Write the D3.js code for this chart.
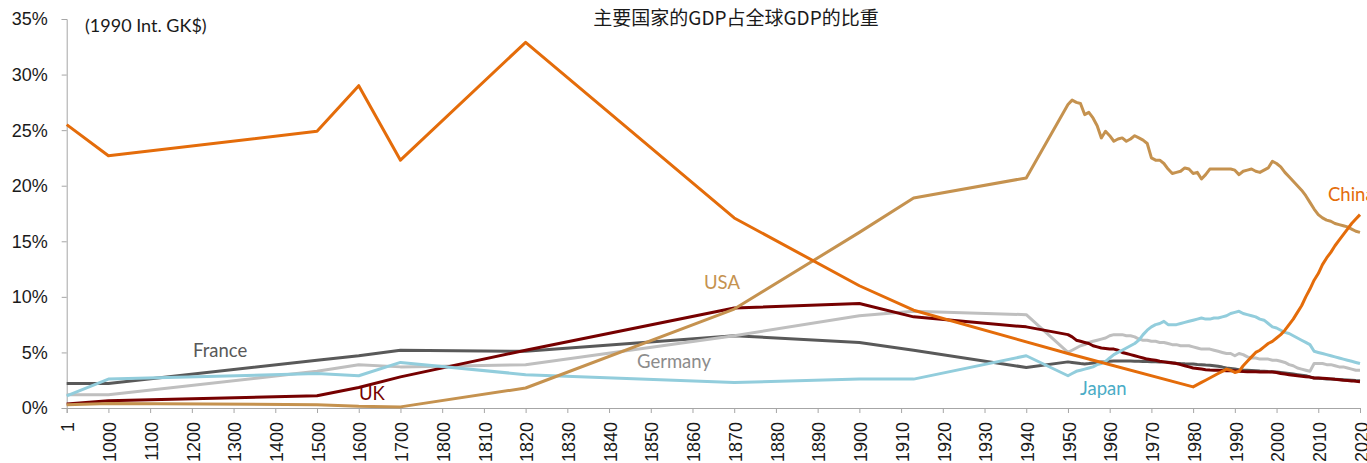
<!DOCTYPE html>
<html>
<head>
<meta charset="utf-8">
<script src="https://cdn.jsdelivr.net/npm/d3@7"></script>
<style>
  body { margin: 0; background: #fff; }
  svg { display: block; font-family: Lato, "Noto Sans", sans-serif; }
</style>
</head>
<body>
<div id="chart"></div>
<script>
// x axis categories (evenly spaced on the axis)
const tickYears = [1, 1000, 1100, 1200, 1300, 1400, 1500, 1600, 1700, 1800,
  1810, 1820, 1830, 1840, 1850, 1860, 1870, 1880, 1890, 1900, 1910, 1920,
  1930, 1940, 1950, 1960, 1970, 1980, 1990, 2000, 2010, 2020];
const yTicks = [0, 5, 10, 15, 20, 25, 30, 35];

const earlyYears = [1, 1000, 1500, 1600, 1700, 1820, 1870, 1900, 1913, 1940];
const annualYears = d3.range(1950, 2021);
const years = earlyYears.concat(annualYears);

// share of world GDP, %
const china = [25.5, 22.7, 24.9, 29.0, 22.3, 32.9, 17.1, 11.0, 8.8, null,
  4.9, null, null, null, null, null, null, null, null, null,
  null, null, null, null, null, null, null, null, null, null,
  null, null, null, null, null, null, null, null, null, null,
  1.9, 2.1, 2.3, 2.5, 2.7, 2.9, 3.1, 3.3, 3.5, 3.4,
  3.2, 3.3, 3.8, 4.2, 4.6, 5.0, 5.2, 5.5, 5.8, 6.0,
  6.3, 6.6, 7.0, 7.5, 8.0, 8.6, 9.2, 10.0, 10.7, 11.5,
  12.1, 12.9, 13.5, 14.0, 14.6, 15.1, 15.6, 16.1, 16.6, 17.0, 17.4];
const usa = [0.3, 0.4, 0.3, 0.15, 0.1, 1.8, 8.9, 15.8, 18.9, 20.7,
  27.3, 27.7, 27.5, 27.4, 26.4, 26.6, 26.1, 25.4, 24.3, 24.9,
  24.5, 24.0, 24.2, 24.3, 24.0, 24.2, 24.5, 24.3, 24.1, 23.8,
  22.5, 22.3, 22.3, 22.0, 21.5, 21.1, 21.2, 21.3, 21.6, 21.5,
  21.1, 21.2, 20.6, 21.0, 21.5, 21.5, 21.5, 21.5, 21.5, 21.5,
  21.4, 21.0, 21.3, 21.4, 21.5, 21.3, 21.2, 21.4, 21.6, 22.2,
  22.0, 21.7, 21.2, 20.8, 20.4, 20.0, 19.6, 19.1, 18.5, 17.9,
  17.4, 17.1, 16.9, 16.8, 16.6, 16.5, 16.4, 16.3, 16.1, 15.9, 15.8];
const japan = [1.1, 2.6, 3.1, 2.9, 4.1, 3.0, 2.3, 2.6, 2.6, 4.7,
  2.9, 3.1, 3.3, 3.4, 3.5, 3.6, 3.7, 3.9, 4.0, 4.2,
  4.5, 4.8, 5.0, 5.2, 5.4, 5.6, 5.8, 6.1, 6.6, 7.0,
  7.3, 7.5, 7.6, 7.8, 7.5, 7.5, 7.5, 7.6, 7.7, 7.8,
  7.9, 8.0, 8.1, 8.0, 8.0, 8.1, 8.1, 8.2, 8.3, 8.5,
  8.6, 8.7, 8.5, 8.4, 8.3, 8.2, 8.0, 7.9, 7.6, 7.3,
  7.2, 7.0, 6.8, 6.7, 6.5, 6.3, 6.1, 5.9, 5.7, 5.1,
  5.0, 4.9, 4.8, 4.7, 4.6, 4.5, 4.4, 4.3, 4.2, 4.1, 4.0];
const germany = [1.2, 1.2, 3.3, 3.9, 3.7, 3.9, 6.5, 8.3, 8.7, 8.4,
  5.0, 5.2, 5.4, 5.6, 5.7, 5.9, 6.0, 6.1, 6.2, 6.3,
  6.5, 6.6, 6.6, 6.6, 6.5, 6.5, 6.4, 6.2, 6.1, 6.1,
  6.0, 6.0, 5.9, 5.9, 5.8, 5.7, 5.7, 5.6, 5.6, 5.6,
  5.5, 5.4, 5.3, 5.3, 5.3, 5.2, 5.1, 5.0, 4.9, 4.9,
  4.7, 4.9, 4.8, 4.6, 4.5, 4.5, 4.4, 4.4, 4.4, 4.3,
  4.3, 4.2, 4.1, 3.9, 3.8, 3.6, 3.5, 3.4, 3.3, 4.0,
  4.0, 4.0, 3.9, 3.9, 3.8, 3.7, 3.7, 3.6, 3.5, 3.4, 3.4];
const uk = [0.35, 0.65, 1.1, 1.85, 2.8, 5.2, 9.0, 9.4, 8.2, 7.3,
  6.6, 6.4, 6.1, 6.0, 5.9, 5.8, 5.6, 5.5, 5.4, 5.35,
  5.3, 5.3, 5.2, 5.0, 4.9, 4.8, 4.7, 4.6, 4.5, 4.4,
  4.35, 4.3, 4.2, 4.15, 4.1, 4.05, 4.0, 3.9, 3.8, 3.7,
  3.6, 3.55, 3.5, 3.45, 3.42, 3.4, 3.4, 3.38, 3.36, 3.35,
  3.35, 3.3, 3.28, 3.27, 3.27, 3.26, 3.25, 3.25, 3.24, 3.23,
  3.2, 3.1, 3.05, 3.0, 2.95, 2.9, 2.85, 2.82, 2.78, 2.7,
  2.7, 2.68, 2.66, 2.62, 2.58, 2.55, 2.5, 2.47, 2.44, 2.4, 2.37];
const france = [2.2, 2.2, 4.3, 4.7, 5.2, 5.1, 6.5, 5.9, 5.2, 3.65,
  4.15, 4.1, 4.05, 4.0, 3.96, 4.0, 4.05, 4.1, 4.15, 4.17,
  4.2, 4.22, 4.23, 4.23, 4.23, 4.22, 4.2, 4.2, 4.19, 4.18,
  4.17, 4.16, 4.15, 4.15, 4.12, 4.07, 4.03, 4.0, 3.98, 3.97,
  3.96, 3.92, 3.9, 3.87, 3.85, 3.8, 3.75, 3.68, 3.6, 3.55,
  3.5, 3.45, 3.42, 3.4, 3.38, 3.35, 3.32, 3.3, 3.28, 3.27,
  3.25, 3.2, 3.15, 3.1, 3.05, 3.0, 2.95, 2.9, 2.8, 2.7,
  2.68, 2.65, 2.62, 2.6, 2.58, 2.56, 2.54, 2.52, 2.5, 2.47, 2.45];

const series = [
  { name: 'France', values: france, color: '#595959', label: '#595959', lx: 193, ly: 357 },
  { name: 'Germany', values: germany, color: '#bfbfbf', label: '#8c8c8c', lx: 637, ly: 368 },
  { name: 'UK', values: uk, color: '#760000', label: '#760000', lx: 359, ly: 400 },
  { name: 'Japan', values: japan, color: '#92cddc', label: '#4bacc6', lx: 1080, ly: 395 },
  { name: 'USA', values: usa, color: '#c5924f', label: '#c5924f', lx: 704, ly: 289 },
  { name: 'China', values: china, color: '#e46c0a', label: '#e46c0a', lx: 1328, ly: 201 }
];

const width = 1367, height = 463;
const margin = { left: 66.7, right: 1360, top: 19, bottom: 408 };

const svg = d3.select('#chart')
  .append('svg')
  .attr('width', width)
  .attr('height', height);

const step = (margin.right - margin.left) / (tickYears.length - 1);
const x = d3.scaleLinear()
  .domain(tickYears)
  .range(tickYears.map((d, i) => margin.left + i * step));
const y = d3.scaleLinear().domain([0, 35]).range([margin.bottom, margin.top]);

// y axis
const yAxis = svg.append('g')
  .attr('transform', `translate(${margin.left},0)`)
  .call(d3.axisLeft(y).tickValues(yTicks).tickFormat(d => d + '%').tickSizeOuter(0).tickSize(5));
yAxis.select('.domain').attr('stroke', '#a6a6a6');
yAxis.selectAll('.tick line').attr('stroke', '#a6a6a6');
yAxis.selectAll('.tick text')
  .attr('fill', '#1a1a1a')
  .style('font-size', '18px')
  .attr('x', -19)
  .attr('dy', '0.33em');

// x axis
const xAxis = svg.append('g')
  .attr('transform', `translate(0,${margin.bottom})`)
  .call(d3.axisBottom(x).tickValues(tickYears).tickFormat(d => String(d)).tickSizeOuter(0).tickSize(5));
xAxis.select('.domain').attr('stroke', '#a6a6a6');
xAxis.selectAll('.tick line').attr('stroke', '#a6a6a6');
xAxis.selectAll('.tick text')
  .attr('fill', '#1a1a1a')
  .style('font-size', '18px')
  .attr('text-anchor', 'end')
  .attr('transform', 'rotate(-90)')
  .attr('x', -14)
  .attr('y', 0)
  .attr('dy', '0.4em');

// lines
const line = d3.line()
  .x(d => x(d.year))
  .y(d => y(d.value));

svg.append('g')
  .selectAll('path')
  .data(series)
  .enter()
  .append('path')
  .attr('fill', 'none')
  .attr('stroke', d => d.color)
  .attr('stroke-width', 3)
  .attr('stroke-linejoin', 'round')
  .attr('d', d => line(years
    .map((yr, i) => ({ year: yr, value: d.values[i] }))
    .filter(p => p.value != null)));

// series labels
svg.append('g')
  .selectAll('text')
  .data(series)
  .enter()
  .append('text')
  .attr('x', d => d.lx)
  .attr('y', d => d.ly)
  .attr('fill', d => d.label)
  .style('font-size', '18.5px')
  .text(d => d.name);

// title and unit note
svg.append('text')
  .attr('x', 736)
  .attr('y', 25)
  .attr('text-anchor', 'middle')
  .style('font-family', '"Noto Sans CJK SC", sans-serif')
  .style('font-size', '19px')
  .attr('fill', '#1a1a1a')
  .text('主要国家的GDP占全球GDP的比重');

svg.append('text')
  .attr('x', 85)
  .attr('y', 32)
  .style('font-size', '18px')
  .attr('fill', '#1a1a1a')
  .text('(1990 Int. GK$)');
</script>
</body>
</html>
